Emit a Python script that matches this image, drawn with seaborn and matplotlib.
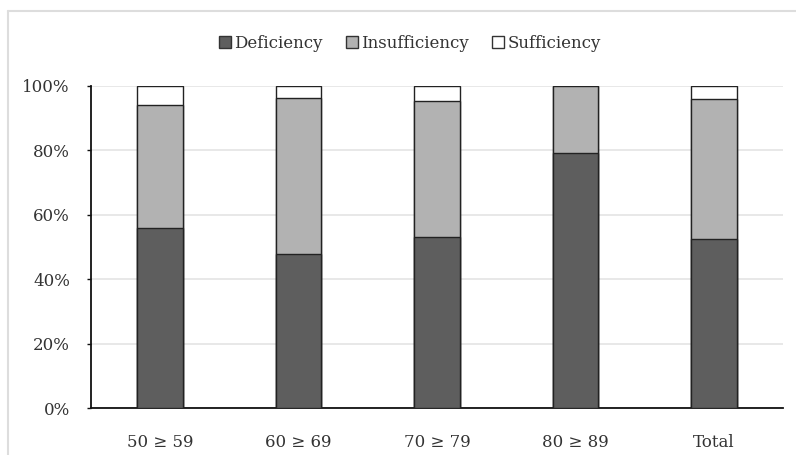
import numpy as np
import matplotlib.pyplot as plt
import seaborn as sns
import pandas as pd
from matplotlib.patches import Patch
from matplotlib.lines import Line2D
from matplotlib.ticker import PercentFormatter

# Share of each vitamin D status per age group (percent)
groups = ["50 ≥ 59", "60 ≥ 69", "70 ≥ 79", "80 ≥ 89", "Total"]
deficiency = [55.9, 47.7, 53.0, 79.3, 52.5]
insufficiency = [38.3, 48.5, 42.4, 20.7, 43.4]
sufficiency = [5.8, 3.8, 4.6, 0.0, 4.1]

colors = {"Deficiency": "#5e5e5e", "Insufficiency": "#b2b2b2", "Sufficiency": "#ffffff"}

df = pd.DataFrame({"group": groups, "Deficiency": deficiency,
                   "Insufficiency": insufficiency, "Sufficiency": sufficiency})
df["cum_def"] = df["Deficiency"] / 100
df["cum_ins"] = (df["Deficiency"] + df["Insufficiency"]) / 100
df["cum_suf"] = (df["Deficiency"] + df["Insufficiency"] + df["Sufficiency"]) / 100

sns.set_style("white")
plt.rcParams["font.family"] = ["DejaVu Serif"]

fig = plt.figure(figsize=(7.96, 4.55), dpi=100)
ax = fig.add_axes([0.114, 0.103, 0.87, 0.708])

# stacked bars drawn tallest first, then overlaid
for col, name in [("cum_suf", "Sufficiency"), ("cum_ins", "Insufficiency"), ("cum_def", "Deficiency")]:
    sns.barplot(data=df, x="group", y=col, color=colors[name], width=0.33,
                edgecolor="#222222", linewidth=1.0, saturation=1, ax=ax, zorder=3)

ax.set_ylim(0, 1)
ax.set_xlim(-0.5, 4.5)
ax.set_yticks(np.arange(0, 1.01, 0.2))
ax.yaxis.set_major_formatter(PercentFormatter(1.0, decimals=0))
ax.grid(axis="y", color="#e4e4e4", linewidth=1.2, zorder=0)
ax.set_xlabel("")
ax.set_ylabel("")

for s in ["top", "right"]:
    ax.spines[s].set_visible(False)
for s in ["left", "bottom"]:
    ax.spines[s].set_color("#111111")
    ax.spines[s].set_linewidth(1.3)

ax.tick_params(axis="y", left=True, length=3, width=1, color="#111111",
               labelsize=12, labelcolor="#333333", pad=12)
ax.tick_params(axis="x", bottom=False, labelsize=12, labelcolor="#333333", pad=15)

handles = [Patch(facecolor=colors[n], edgecolor="#333333", linewidth=1.0, label=n)
           for n in ["Deficiency", "Insufficiency", "Sufficiency"]]
fig.legend(handles=handles, loc="center", bbox_to_anchor=(0.515, 0.905), ncol=3,
           frameon=False, fontsize=12, handlelength=0.7, handleheight=0.7,
           handletextpad=0.2, columnspacing=1.4, labelcolor="#333333")

# faint chart frame (only top and left edges are inside the picture)
fig.add_artist(Line2D([0.010, 0.010], [-0.05, 0.976], color="#dddddd", linewidth=1.5))
fig.add_artist(Line2D([0.010, 1.05], [0.976, 0.976], color="#dddddd", linewidth=1.5))

fig.savefig("out.png", dpi=100)
